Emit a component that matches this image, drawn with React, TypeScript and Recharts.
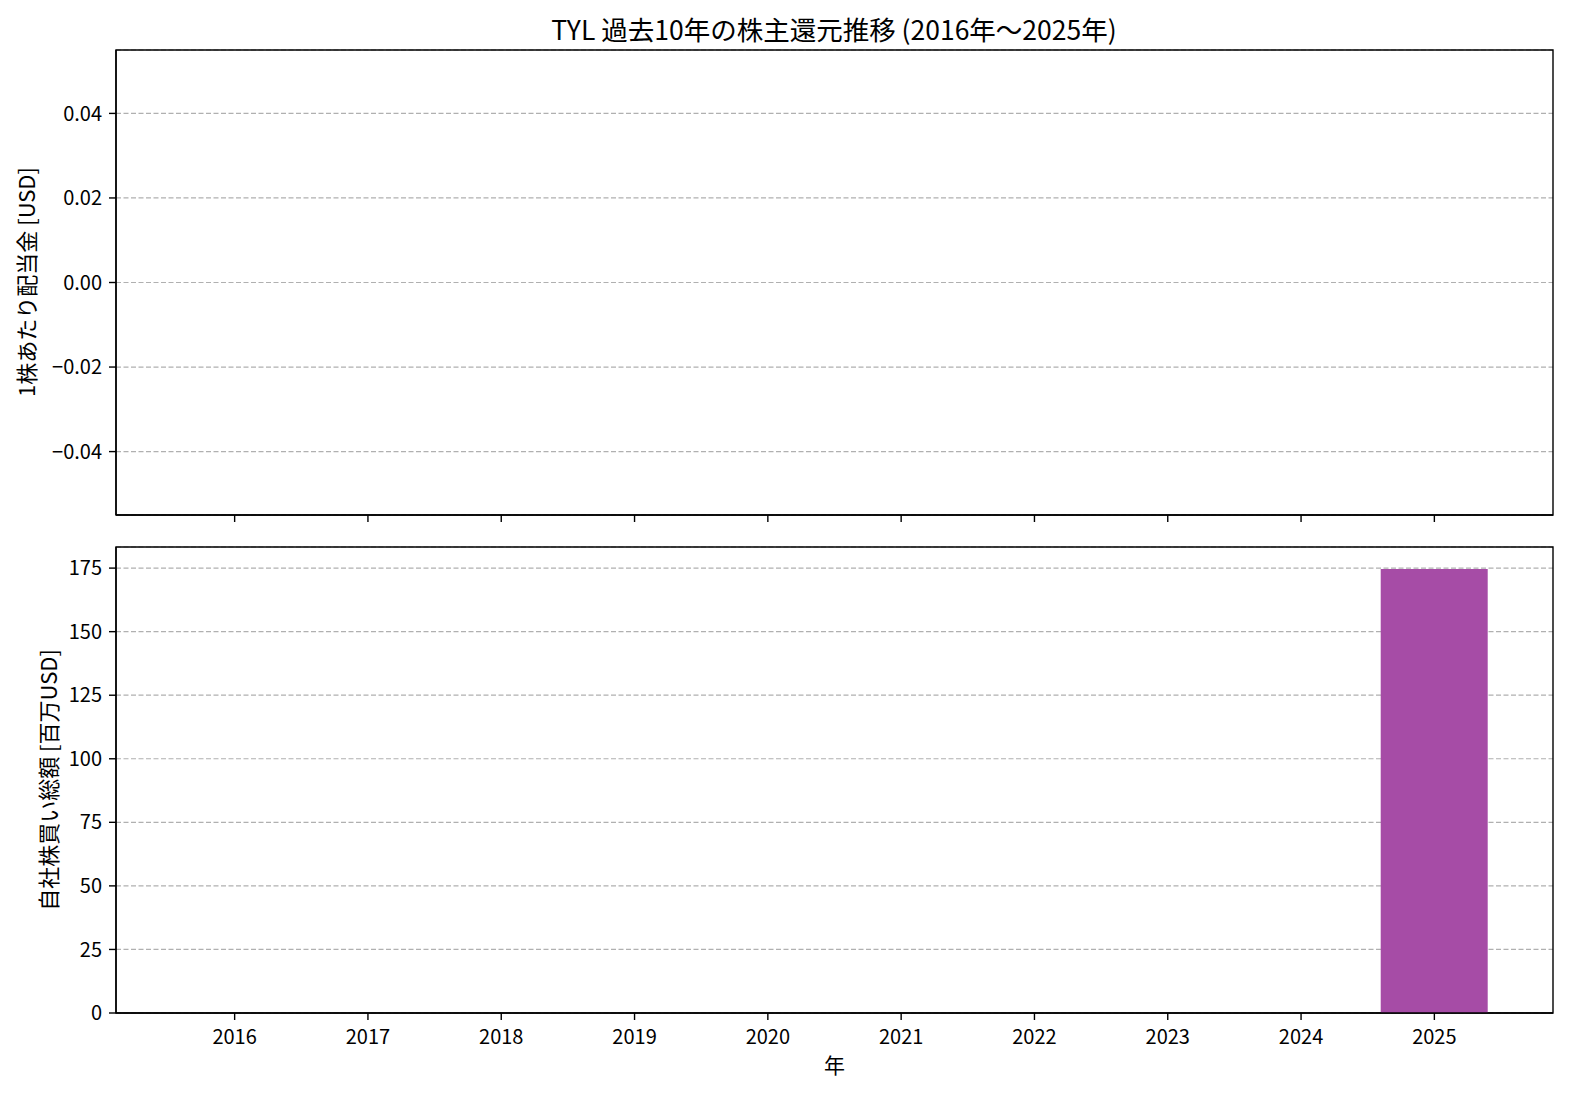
import { Bar, BarChart, CartesianGrid, ReferenceArea, XAxis, YAxis } from "recharts";

const years = ["2016", "2017", "2018", "2019", "2020", "2021", "2022", "2023", "2024", "2025"];
const dividendPerShare = [0, 0, 0, 0, 0, 0, 0, 0, 0, 0];
const buybackTotal = [0, 0, 0, 0, 0, 0, 0, 0, 0, 174.6];
const dividendTicks = [-0.04, -0.02, 0, 0.02, 0.04];
const buybackTicks = [0, 25, 50, 75, 100, 125, 150, 175];
const xTicks = [0, 1, 2, 3, 4, 5, 6, 7, 8, 9];

const rows = years.map((y, i) => ({ idx: i, year: y, dps: dividendPerShare[i], buyback: buybackTotal[i] }));

const FONT = "'Noto Sans CJK JP', 'Noto Sans', sans-serif";
const X_DOMAIN: [number, number] = [-0.89, 9.89];
const tickStyle = { fontSize: 20, fill: "#000", fontFamily: FONT };

function fmtDps(v: number): string {
  const s = Math.abs(v).toFixed(2);
  return v < 0 ? `\u2212${s}` : s;
}

export default function App() {
  return (
    <div style={{ position: "absolute", left: 0, top: 0, width: 1582, height: 1102, background: "#fff", fontFamily: FONT }}>
      <div style={{ position: "absolute", left: 834, top: 28, transform: "translate(-50%, -50%)", fontSize: 26.5, whiteSpace: "nowrap", color: "#000" }}>
        TYL 過去10年の株主還元推移 (2016年～2025年)
      </div>

      <div style={{ position: "absolute", left: 0, top: 0 }}>
        <BarChart width={1582} height={540} data={rows} margin={{ top: 50, right: 29, left: 0, bottom: 0 }}>
          <CartesianGrid vertical={false} stroke="#b0b0b0" strokeDasharray="5 2.5" strokeWidth={1.2} />
          <XAxis
            dataKey="idx"
            type="number"
            domain={X_DOMAIN}
            ticks={xTicks}
            allowDataOverflow
            height={25}
            tickFormatter={() => ""}
            tickSize={7}
            stroke="#000"
            tickLine={{ stroke: "#000", strokeWidth: 1.4 }}
            axisLine={{ stroke: "#000", strokeWidth: 1.4 }}
          />
          <YAxis
            type="number"
            domain={[-0.055, 0.055]}
            ticks={dividendTicks}
            allowDataOverflow
            width={116}
            tick={tickStyle}
            tickFormatter={fmtDps}
            tickSize={7}
            tickMargin={7}
            tickLine={{ stroke: "#000", strokeWidth: 1.4 }}
            axisLine={{ stroke: "#000", strokeWidth: 1.4 }}
          />
          <Bar dataKey="dps" fill="#a64ca6" barSize={107} isAnimationActive={false} />
          <ReferenceArea x1={X_DOMAIN[0]} x2={X_DOMAIN[1]} y1={-0.055} y2={0.055} fill="none" stroke="#000" strokeWidth={1.4} />
        </BarChart>
      </div>

      <div style={{ position: "absolute", left: 0, top: 530 }}>
        <BarChart width={1582} height={572} data={rows} margin={{ top: 17, right: 29, left: 0, bottom: 0 }}>
          <CartesianGrid vertical={false} stroke="#b0b0b0" strokeDasharray="5 2.5" strokeWidth={1.2} />
          <XAxis
            dataKey="idx"
            type="number"
            domain={X_DOMAIN}
            ticks={xTicks}
            allowDataOverflow
            height={89}
            tick={tickStyle}
            tickFormatter={(v: number) => years[v] ?? ""}
            tickSize={7}
            tickMargin={10}
            tickLine={{ stroke: "#000", strokeWidth: 1.4 }}
            axisLine={{ stroke: "#000", strokeWidth: 1.4 }}
            label={{ value: "年", position: "insideBottom", offset: 29, fontSize: 21, fill: "#000", fontFamily: FONT }}
          />
          <YAxis
            type="number"
            domain={[0, 183.3]}
            ticks={buybackTicks}
            allowDataOverflow
            width={116}
            tick={tickStyle}
            tickSize={7}
            tickMargin={7}
            tickLine={{ stroke: "#000", strokeWidth: 1.4 }}
            axisLine={{ stroke: "#000", strokeWidth: 1.4 }}
          />
          <Bar dataKey="buyback" fill="#a64ca6" barSize={107} isAnimationActive={false} />
          <ReferenceArea x1={X_DOMAIN[0]} x2={X_DOMAIN[1]} y1={0} y2={183.3} fill="none" stroke="#000" strokeWidth={1.4} />
        </BarChart>
      </div>

      <div style={{ position: "absolute", left: 25, top: 282, transform: "translate(-50%, -50%) rotate(-90deg)", fontSize: 22, whiteSpace: "nowrap", color: "#000" }}>
        1株あたり配当金 [USD]
      </div>
      <div style={{ position: "absolute", left: 47, top: 780, transform: "translate(-50%, -50%) rotate(-90deg)", fontSize: 22, whiteSpace: "nowrap", color: "#000" }}>
        自社株買い総額 [百万USD]
      </div>
    </div>
  );
}
